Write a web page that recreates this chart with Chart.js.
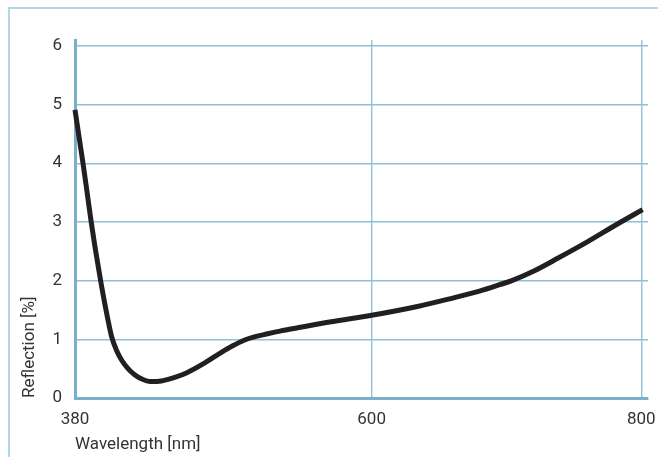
<!DOCTYPE html>
<html>
<head>
<meta charset="utf-8">
<script src="https://cdn.jsdelivr.net/npm/chart.js@4/dist/chart.umd.min.js"></script>
<style>
  html, body { margin: 0; padding: 0; background: #fff; overflow: hidden; width: 658px; height: 457px; }
  #frame { position: absolute; left: 8px; top: 7px; width: 700px; height: 500px; border: 2px solid #b3d6e6; box-sizing: border-box; }
  #c { position: absolute; left: 0; top: 0; }
</style>
</head>
<body>
<div id="frame"></div>
<canvas id="c" width="658" height="457"></canvas>
<script>
// Reflection curve
const wavelengths = [380, 383, 386, 389, 392, 395, 399, 403, 407, 411, 415, 419, 424, 429, 436, 444, 454, 463, 475, 488, 497, 505, 513, 522, 532, 546, 570, 600, 634, 658, 680, 695, 704, 720, 738, 760, 782, 801];
const reflection  = [4.91, 4.45, 3.99, 3.5, 3.0, 2.55, 2.0, 1.5, 1.06, 0.8, 0.63, 0.51, 0.4, 0.33, 0.28, 0.29, 0.35, 0.43, 0.58, 0.77, 0.89, 0.98, 1.04, 1.09, 1.14, 1.2, 1.3, 1.41, 1.56, 1.69, 1.82, 1.93, 2.0, 2.16, 2.38, 2.66, 2.96, 3.21];
const xTicks = [380, 600, 800];
const yTicks = [0, 1, 2, 3, 4, 5, 6];

const gridColor = '#8fc0d7';
const axisColor = '#78b0ca';
const textColor = '#333333';
const fontFamily = 'Roboto, "Liberation Sans", sans-serif';

new Chart(document.getElementById('c'), {
  type: 'scatter',
  data: {
    datasets: [{
      data: wavelengths.map((w, i) => ({ x: w, y: reflection[i] })),
      showLine: true,
      borderColor: '#231f20',
      borderWidth: 5,
      pointRadius: 0,
      cubicInterpolationMode: 'monotone',
      clip: false
    }]
  },
  options: {
    responsive: false,
    animation: false,
    layout: { autoPadding: false, padding: { top: 40, right: 10, bottom: 0, left: 0 } },
    plugins: { legend: { display: false }, tooltip: { enabled: false } },
    scales: {
      x: {
        type: 'linear',
        min: 380,
        max: 805,
        afterBuildTicks: s => { s.ticks = xTicks.map(v => ({ value: v })); },
        afterFit: s => { s.height = 59; s.paddingLeft = 0; s.paddingRight = 0; },
        grid: { color: gridColor, lineWidth: 1.4, drawTicks: false },
        border: { color: axisColor, width: 3 },
        ticks: { color: textColor, font: { family: fontFamily, size: 17 }, padding: 12, maxRotation: 0, autoSkip: false },
        title: { display: true, text: 'Wavelength [nm]', align: 'start', color: textColor,
                 font: { family: fontFamily, size: 17 }, padding: { top: 0, bottom: 2 } }
      },
      y: {
        type: 'linear',
        min: 0,
        max: 6.1,
        afterBuildTicks: s => { s.ticks = yTicks.map(v => ({ value: v })); },
        afterFit: s => { s.width = 75; s.paddingTop = 0; s.paddingBottom = 0; },
        grid: { color: gridColor, lineWidth: 1.4, drawTicks: false },
        border: { color: axisColor, width: 3 },
        ticks: { color: textColor, font: { family: fontFamily, size: 17 }, padding: 13 },
        title: { display: true, text: 'Reflection [%]', align: 'start', color: textColor,
                 font: { family: fontFamily, size: 17 }, padding: { top: 20, bottom: 0 } }
      }
    }
  }
});
</script>
</body>
</html>
